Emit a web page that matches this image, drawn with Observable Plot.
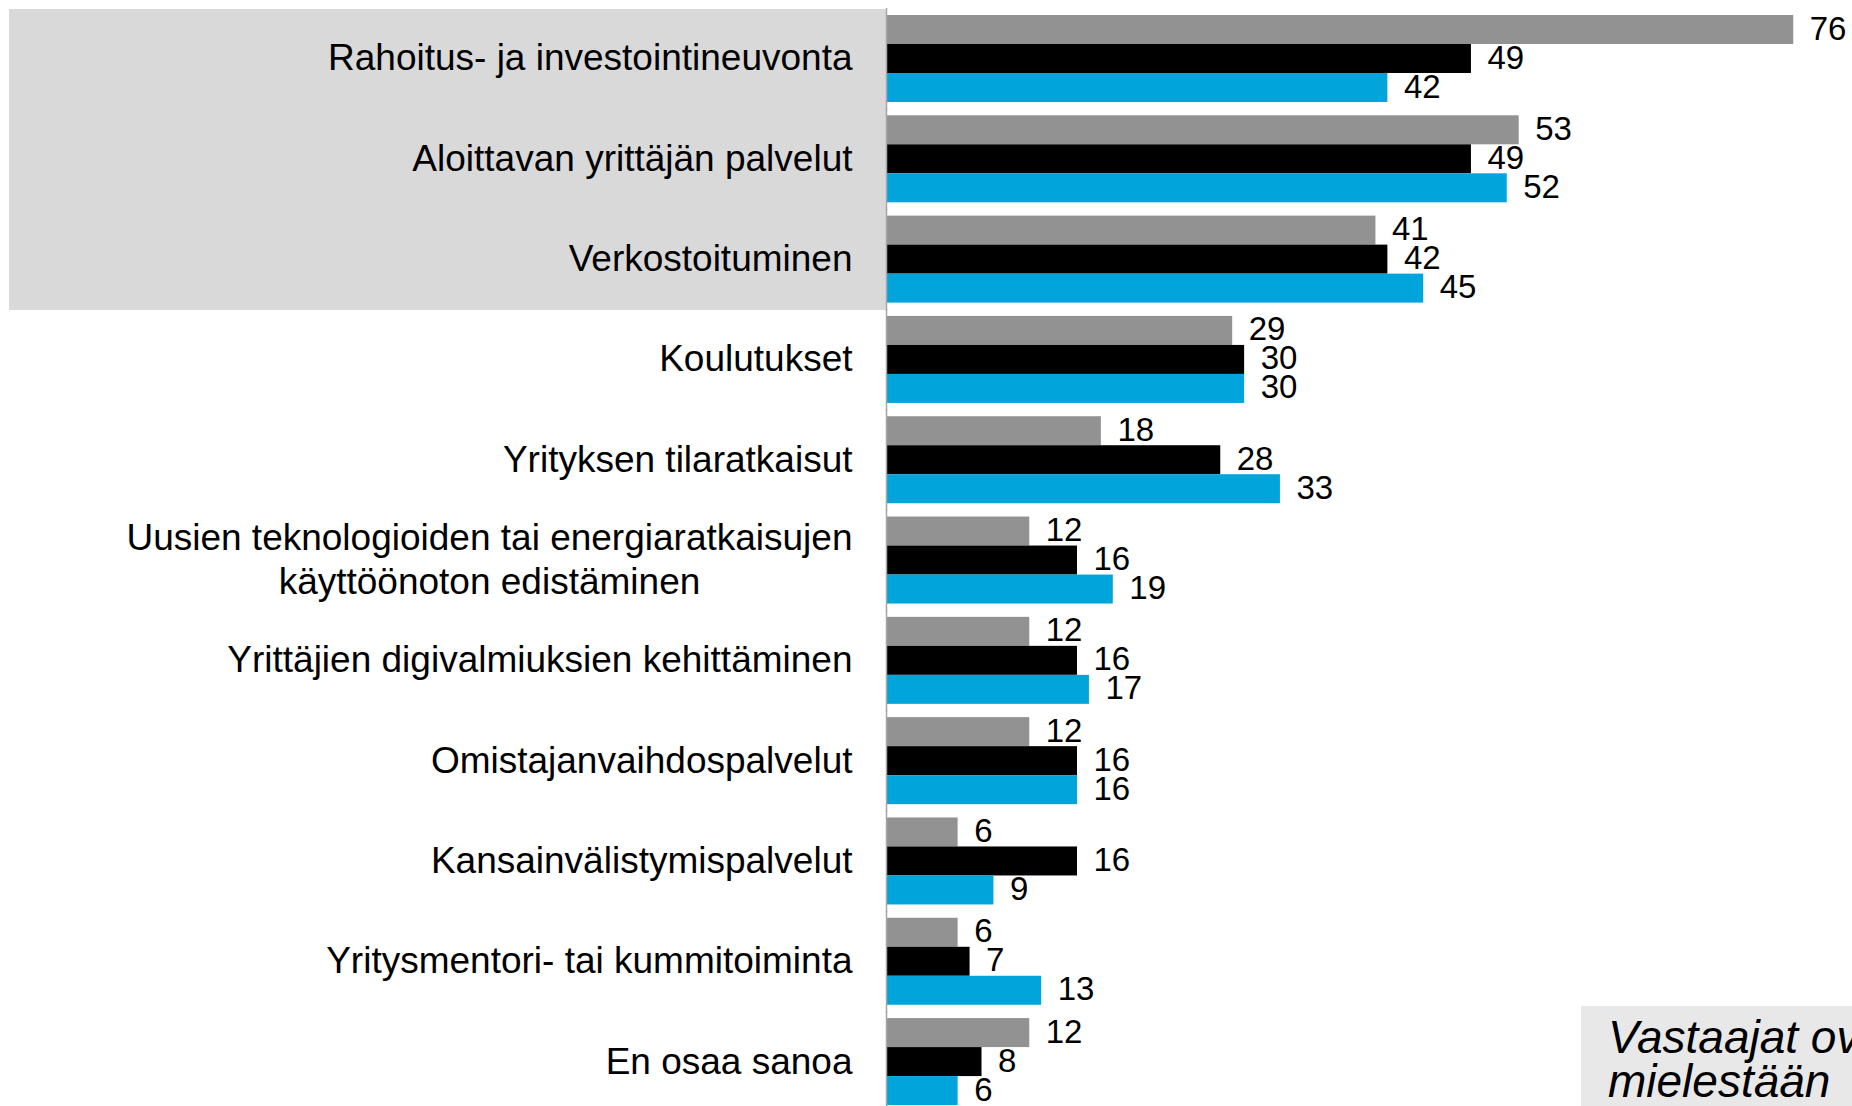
<!DOCTYPE html>
<html>
<head>
<meta charset="utf-8">
<script src="https://cdn.jsdelivr.net/npm/d3@7"></script>
<script src="https://cdn.jsdelivr.net/npm/@observablehq/plot@0.6"></script>
<style>
  html, body { margin: 0; padding: 0; background: #ffffff; overflow: hidden; }
  #wrap { position: relative; width: 1852px; height: 1106px; overflow: hidden;
          font-family: Arial, "Liberation Sans", sans-serif; }
  #hl { position: absolute; background: #d9d9d9; }
  #chart { position: absolute; left: 0; top: 0; }
  #note { position: absolute; left: 1581px; top: 1006px; width: 400px; height: 200px;
          background: #e8e8e8; box-sizing: border-box; padding: 9px 0 0 27px;
          font-style: italic; font-size: 46px; line-height: 44px; color: #000;
          white-space: nowrap; }
</style>
</head>
<body>
<div id="wrap">
  <div id="hl"></div>
  <div id="chart"></div>
  <div id="note">Vastaajat ovat<br>mielestään</div>
</div>
<script>
// ---- data ----
const categories = [
  "Rahoitus- ja investointineuvonta",
  "Aloittavan yrittäjän palvelut",
  "Verkostoituminen",
  "Koulutukset",
  "Yrityksen tilaratkaisut",
  "Uusien teknologioiden tai energiaratkaisujen\nkäyttöönoton edistäminen",
  "Yrittäjien digivalmiuksien kehittäminen",
  "Omistajanvaihdospalvelut",
  "Kansainvälistymispalvelut",
  "Yritysmentori- tai kummitoiminta",
  "En osaa sanoa"
];
const seriesNames = ["Sarja 1", "Sarja 2", "Sarja 3"];
const seriesColors = ["#929292", "#000000", "#02a5db"];
const valuesSeries1 = [76, 53, 41, 29, 18, 12, 12, 12, 6, 6, 12];
const valuesSeries2 = [49, 49, 42, 30, 28, 16, 16, 16, 16, 7, 8];
const valuesSeries3 = [42, 52, 45, 30, 33, 19, 17, 16, 9, 13, 6];
const highlighted = categories.slice(0, 3);

const allValues = [valuesSeries1, valuesSeries2, valuesSeries3];
const rows = [];
categories.forEach((c, i) => {
  seriesNames.forEach((s, j) => rows.push({cat: c, series: s, value: allValues[j][i]}));
});

const plot = Plot.plot({
  width: 1852,
  height: 1106,
  marginLeft: 886,
  marginRight: 11,
  marginTop: 15,
  marginBottom: 0,
  style: {fontFamily: "Arial, 'Liberation Sans', sans-serif", background: "transparent", overflow: "visible", color: "#000"},
  x: {domain: [0, 80], axis: null},
  y: {domain: seriesNames, axis: null, padding: 0},
  fy: {domain: categories, axis: null, paddingInner: 0.1235, paddingOuter: 0, round: false},
  color: {domain: seriesNames, range: seriesColors},
  marks: [
    Plot.barX(rows, {fy: "cat", y: "series", x: "value", fill: "series"}),
    Plot.text(rows, {fy: "cat", y: "series", x: "value", text: d => String(d.value),
      textAnchor: "start", dx: 16, dy: -1, fontSize: 33, fill: "#000"}),
    Plot.text(categories, {fy: d => d, text: d => d, frameAnchor: "left",
      textAnchor: "end", dx: -34, dy: -3, fontSize: 37, lineHeight: 1.18, fill: "#000"}),
    Plot.ruleX([0], {stroke: "#a6a6a6", strokeWidth: 1.5, facet: false, insetTop: -7, insetBottom: -7})
  ]
});

document.getElementById("chart").appendChild(plot);

// highlight box behind the first three categories, derived from the scales
const fyScale = plot.scale("fy");
const xScale = plot.scale("x");
const bandGap = fyScale.step - fyScale.bandwidth;
const boxTop = fyScale.apply(highlighted[0]) - bandGap / 2;
const boxBottom = fyScale.apply(highlighted[highlighted.length - 1]) + fyScale.bandwidth + bandGap / 2;
const hlBox = document.getElementById("hl");
hlBox.style.left = "9px";
hlBox.style.top = boxTop + "px";
hlBox.style.width = (xScale.apply(0) - 9) + "px";
hlBox.style.height = (boxBottom - boxTop) + "px";

// center the lines of multi-line category labels within their block
plot.querySelectorAll("text").forEach(t => {
  const spans = t.querySelectorAll("tspan");
  if (spans.length > 1) {
    const widths = Array.from(spans, s => s.getComputedTextLength());
    const w = Math.max(...widths);
    spans.forEach((s, i) => s.setAttribute("dx", -(w - widths[i]) / 2));
  }
});
</script>
</body>
</html>
